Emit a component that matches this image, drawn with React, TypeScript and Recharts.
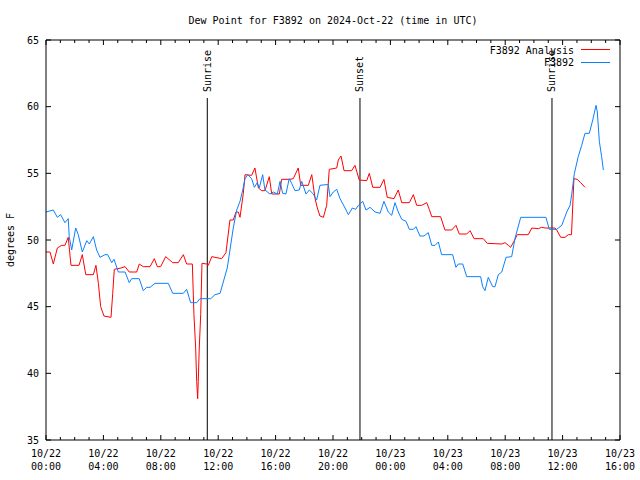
import React from 'react';
import { LineChart, Line, XAxis, YAxis, ReferenceLine } from 'recharts';

// hours since 10/22 00:00 UTC
const stationHours = [
  0, 0.51, 0.79, 1.02, 1.32, 1.55, 1.62, 1.79, 2.07, 2.25,
  2.53, 2.84, 3.02, 3.3, 3.53, 3.76, 4.11, 4.3, 4.58, 4.74,
  5.04, 5.51, 5.8, 5.97, 6.5, 6.78, 7.02, 7.25, 7.6, 8.52,
  8.83, 9.57, 9.8, 10.08, 10.5, 10.73, 11.48, 11.78, 12.13, 12.63,
  12.82, 13.05, 13.29, 13.52, 13.71, 13.87, 14.06, 14.33, 14.52, 14.72,
  14.86, 15.1, 15.26, 15.61, 15.84, 16.12, 16.31, 16.49, 16.72, 16.95,
  17.12, 17.35, 17.65, 17.82, 17.98, 18.12, 18.35, 18.63, 18.86, 19.09,
  19.51, 19.67, 19.79, 20.02, 20.26, 20.49, 20.84, 21.07, 21.35, 21.58,
  21.77, 22.07, 22.3, 22.58, 22.93, 23.28, 23.55, 23.85, 24.09, 24.32,
  24.55, 24.79, 25.09, 25.32, 25.6, 25.78, 26.06, 26.34, 26.64, 26.88,
  27.11, 27.34, 27.57, 28.34, 28.57, 28.73, 29.04, 29.32, 30.29, 30.43,
  30.59, 30.82, 31.13, 31.29, 31.52, 31.76, 32.06, 32.45, 32.68, 33.08,
  34.84, 35.07, 35.59, 35.94, 36.29, 36.52, 36.63, 36.82, 37.09, 37.33,
  37.56, 37.86, 38.1, 38.33, 38.42, 38.56, 38.72, 38.84,
];
const stationValues = [
  52.1, 52.25, 51.7, 51.9, 51.3, 51.6, 50.25, 49.25, 50.9, 50.4,
  49.1, 49.95, 49.7, 50.25, 49.25, 48.7, 48.9, 48.9, 48.3, 48.55,
  47.6, 47.6, 46.8, 47.1, 47.1, 46.2, 46.45, 46.45, 46.75, 46.75,
  46.0, 46.0, 46.3, 45.3, 45.3, 45.6, 45.6, 45.9, 46.0, 47.9,
  49.25, 50.9, 52.25, 52.9, 53.75, 54.6, 54.9, 54.6, 53.95, 54.3,
  53.9, 54.9, 53.75, 53.45, 53.6, 53.45, 54.4, 53.5, 53.45, 54.6,
  54.25, 53.7, 53.75, 54.4, 53.9, 53.45, 53.75, 53.45, 53.0, 54.1,
  54.15, 54.15, 53.25, 53.6, 53.8, 53.1, 52.4, 51.9, 52.4, 52.3,
  52.6, 52.9, 52.25, 52.45, 52.1, 52.0, 52.9, 52.1, 51.85, 52.8,
  52.1, 51.55, 51.4, 50.8, 50.8, 51.0, 50.3, 50.3, 50.55, 49.6,
  49.6, 49.85, 48.9, 48.9, 47.95, 48.2, 48.2, 47.25, 47.25, 46.5,
  46.2, 47.2, 46.5, 46.5, 47.4, 47.6, 48.7, 48.75, 50.1, 51.7,
  51.7, 50.8, 50.8, 51.1, 52.1, 52.6, 53.4, 55.0, 56.25, 57.1,
  58.0, 58.0, 59.0, 60.1, 59.6, 57.4, 56.25, 55.25,
];

const analysisHours = [
  0, 0.28, 0.51, 0.79, 1.09, 1.32, 1.55, 1.74, 2.3, 2.53,
  2.77, 3.3, 3.48, 3.65, 3.81, 4.04, 4.53, 4.65, 4.76, 5.23,
  5.51, 5.8, 6.32, 6.5, 6.78, 7.25, 7.55, 7.76, 7.99, 8.34,
  8.83, 9.22, 9.57, 9.8, 10.2, 10.31, 10.43, 10.5, 10.57, 10.61,
  10.68, 10.78, 10.87, 11.2, 11.31, 11.55, 12.24, 12.54, 12.82, 13.05,
  13.24, 13.4, 13.52, 13.75, 13.87, 14.33, 14.56, 14.8, 15.03, 15.26,
  15.56, 15.73, 16.26, 16.42, 17.0, 17.23, 17.58, 17.75, 18.28, 18.52,
  18.75, 18.91, 19.09, 19.33, 19.56, 19.74, 20.26, 20.37, 20.56, 20.77,
  21.3, 21.53, 21.83, 22.35, 22.53, 22.77, 23.28, 23.55, 23.78, 24.25,
  24.55, 24.79, 25.32, 25.6, 25.83, 26.18, 26.53, 26.71, 26.88, 27.5,
  27.8, 28.27, 28.57, 28.8, 29.32, 29.55, 29.83, 30.47, 30.75, 31.76,
  31.99, 32.22, 32.38, 32.61, 32.84, 33.61, 33.85, 34.31, 34.54, 34.77,
  35.47, 35.59, 35.87, 36.17, 36.4, 36.62, 36.79, 37.02, 37.26, 37.56,
];
const analysisValues = [
  49.1, 49.1, 48.2, 49.4, 49.6, 49.6, 50.2, 48.1, 48.1, 48.9,
  47.4, 47.4, 48.1, 46.75, 45.0, 44.3, 44.2, 46.0, 47.8, 47.9,
  48.0, 47.6, 47.6, 48.2, 48.0, 48.0, 48.6, 48.0, 48.0, 48.75,
  48.3, 48.3, 48.9, 48.2, 48.2, 44.4, 41.9, 39.4, 38.1, 39.4,
  41.9, 44.4, 48.25, 48.2, 48.1, 48.75, 48.6, 49.05, 51.5, 51.5,
  52.1, 52.1, 51.7, 53.5, 54.9, 54.85, 55.4, 53.9, 53.7, 53.7,
  54.75, 53.45, 53.45, 54.55, 54.55, 54.6, 55.4, 54.1, 54.1, 54.9,
  53.1, 52.4, 51.8, 51.7, 52.6, 55.3, 55.4, 56.0, 56.3, 55.2,
  55.2, 55.6, 54.5, 54.45, 55.0, 53.95, 53.95, 54.55, 53.2, 53.1,
  53.75, 52.8, 52.8, 53.4, 52.6, 52.6, 52.8, 52.3, 51.75, 51.75,
  50.75, 50.75, 51.1, 50.45, 50.45, 50.7, 50.1, 50.1, 49.75, 49.7,
  49.8, 49.6, 49.45, 49.9, 50.4, 50.4, 50.9, 50.85, 50.95, 50.9,
  50.9, 50.75, 50.2, 50.2, 50.4, 50.4, 54.6, 54.55, 54.3, 53.95,
];

const hourTicks = Array.from({ length: 41 }, (_, i) => i);
const majorTicks = [0, 4, 8, 12, 16, 20, 24, 28, 32, 36, 40];
const dateLabels = ['10/22', '10/22', '10/22', '10/22', '10/22', '10/22', '10/23', '10/23', '10/23', '10/23', '10/23'];
const timeLabels = ['00:00', '04:00', '08:00', '12:00', '16:00', '20:00', '00:00', '04:00', '08:00', '12:00', '16:00'];
const yTicks = [35, 40, 45, 50, 55, 60, 65];

const sunHours = [11.24, 21.88, 35.26];
const sunNames = ['Sunrise', 'Sunset', 'Sunrise'];
const sunLineTop = 60.65;

const stationData = stationHours.map((h, i) => ({ h, v: stationValues[i] }));
const analysisData = analysisHours.map((h, i) => ({ h, v: analysisValues[i] }));

const FONT = '"DejaVu Sans Mono", monospace';
const RED = '#ff0000';
const BLUE = '#0a80ff';

const BottomTick = (props: any) => {
  const { x, payload } = props;
  const y = 440;
  const idx = majorTicks.indexOf(payload.value);
  const major = idx >= 0;
  return (
    <g>
      <line x1={x} x2={x} y1={y} y2={y - (major ? 5 : 3)} stroke="#000" />
      {major && (
        <text fontFamily={FONT} fontSize={10} fill="#000" textAnchor="middle">
          <tspan x={x} y={y + 17}>{dateLabels[idx]}</tspan>
          <tspan x={x} y={y + 30}>{timeLabels[idx]}</tspan>
        </text>
      )}
    </g>
  );
};

const TopTick = (props: any) => {
  const { x, payload } = props;
  const y = 40;
  const major = majorTicks.includes(payload.value);
  return <line x1={x} x2={x} y1={y} y2={y + (major ? 5 : 3)} stroke="#000" />;
};

const LeftTick = (props: any) => {
  const { y, payload } = props;
  const x = 46;
  return (
    <g>
      <line x1={x} x2={x + 5} y1={y} y2={y} stroke="#000" />
      <text x={x - 7} y={y + 3.5} fontFamily={FONT} fontSize={10} fill="#000" textAnchor="end">
        {payload.value}
      </text>
    </g>
  );
};

const RightTick = (props: any) => {
  const { y } = props;
  const x = 620;
  return <line x1={x} x2={x - 5} y1={y} y2={y} stroke="#000" />;
};

const SunLabel = (props: any) => {
  const vb = props.viewBox || {};
  const x = vb.x + 3.5;
  const y = vb.y - 6;
  return (
    <text
      x={x}
      y={y}
      transform={`rotate(-90 ${x} ${y})`}
      fontFamily={FONT}
      fontSize={10}
      fill="#000"
      textAnchor="start"
    >
      {props.text}
    </text>
  );
};

export default function App() {
  return (
    <div style={{ position: 'absolute', left: 0, top: 0, width: 640, height: 480, background: '#fff' }}>
      <LineChart width={640} height={480} margin={{ top: 39, right: 19, bottom: 39, left: 45 }}>
        <XAxis
          xAxisId="b"
          type="number"
          dataKey="h"
          domain={[0, 40]}
          ticks={hourTicks}
          interval={0}
          height={1}
          tickSize={0}
          tickMargin={0}
          tickLine={false}
          tick={<BottomTick />}
          axisLine={{ stroke: '#000' }}
          allowDataOverflow
        />
        <XAxis
          xAxisId="t"
          orientation="top"
          type="number"
          dataKey="h"
          domain={[0, 40]}
          ticks={hourTicks}
          interval={0}
          height={1}
          tickSize={0}
          tickMargin={0}
          tickLine={false}
          tick={<TopTick />}
          axisLine={{ stroke: '#000' }}
          allowDataOverflow
        />
        <YAxis
          yAxisId="l"
          type="number"
          domain={[35, 65]}
          ticks={yTicks}
          interval={0}
          width={1}
          tickSize={0}
          tickMargin={0}
          tickLine={false}
          tick={<LeftTick />}
          axisLine={{ stroke: '#000' }}
          allowDataOverflow
        />
        <YAxis
          yAxisId="r"
          orientation="right"
          type="number"
          domain={[35, 65]}
          ticks={yTicks}
          interval={0}
          width={1}
          tickSize={0}
          tickMargin={0}
          tickLine={false}
          tick={<RightTick />}
          axisLine={{ stroke: '#000' }}
          allowDataOverflow
        />
        {sunHours.map((h, i) => (
          <ReferenceLine
            key={i}
            xAxisId="b"
            yAxisId="l"
            segment={[{ x: h, y: sunLineTop }, { x: h, y: 35 }]}
            stroke="#000"
            strokeWidth={1}
            ifOverflow="visible"
            label={<SunLabel text={sunNames[i]} />}
          />
        ))}
        <Line
          xAxisId="b"
          yAxisId="l"
          data={analysisData}
          dataKey="v"
          type="linear"
          stroke={RED}
          strokeWidth={1}
          dot={false}
          isAnimationActive={false}
        />
        <Line
          xAxisId="b"
          yAxisId="l"
          data={stationData}
          dataKey="v"
          type="linear"
          stroke={BLUE}
          strokeWidth={1}
          dot={false}
          isAnimationActive={false}
        />
      </LineChart>
      <svg
        width={640}
        height={480}
        style={{ position: 'absolute', left: 0, top: 0, pointerEvents: 'none' }}
      >
        <text x={333} y={24} fontFamily={FONT} fontSize={10} textAnchor="middle" fill="#000">
          Dew Point for F3892 on 2024-Oct-22 (time in UTC)
        </text>
        <text
          x={14}
          y={240}
          transform="rotate(-90 14 240)"
          fontFamily={FONT}
          fontSize={10}
          textAnchor="middle"
          fill="#000"
        >
          degrees F
        </text>
        <text x={574} y={53.5} fontFamily={FONT} fontSize={10} textAnchor="end" fill="#000">
          F3892 Analysis
        </text>
        <line x1={581} x2={610} y1={49.5} y2={49.5} stroke={RED} />
        <text x={574} y={66} fontFamily={FONT} fontSize={10} textAnchor="end" fill="#000">
          F3892
        </text>
        <line x1={581} x2={610} y1={62.5} y2={62.5} stroke={BLUE} />
      </svg>
    </div>
  );
}
